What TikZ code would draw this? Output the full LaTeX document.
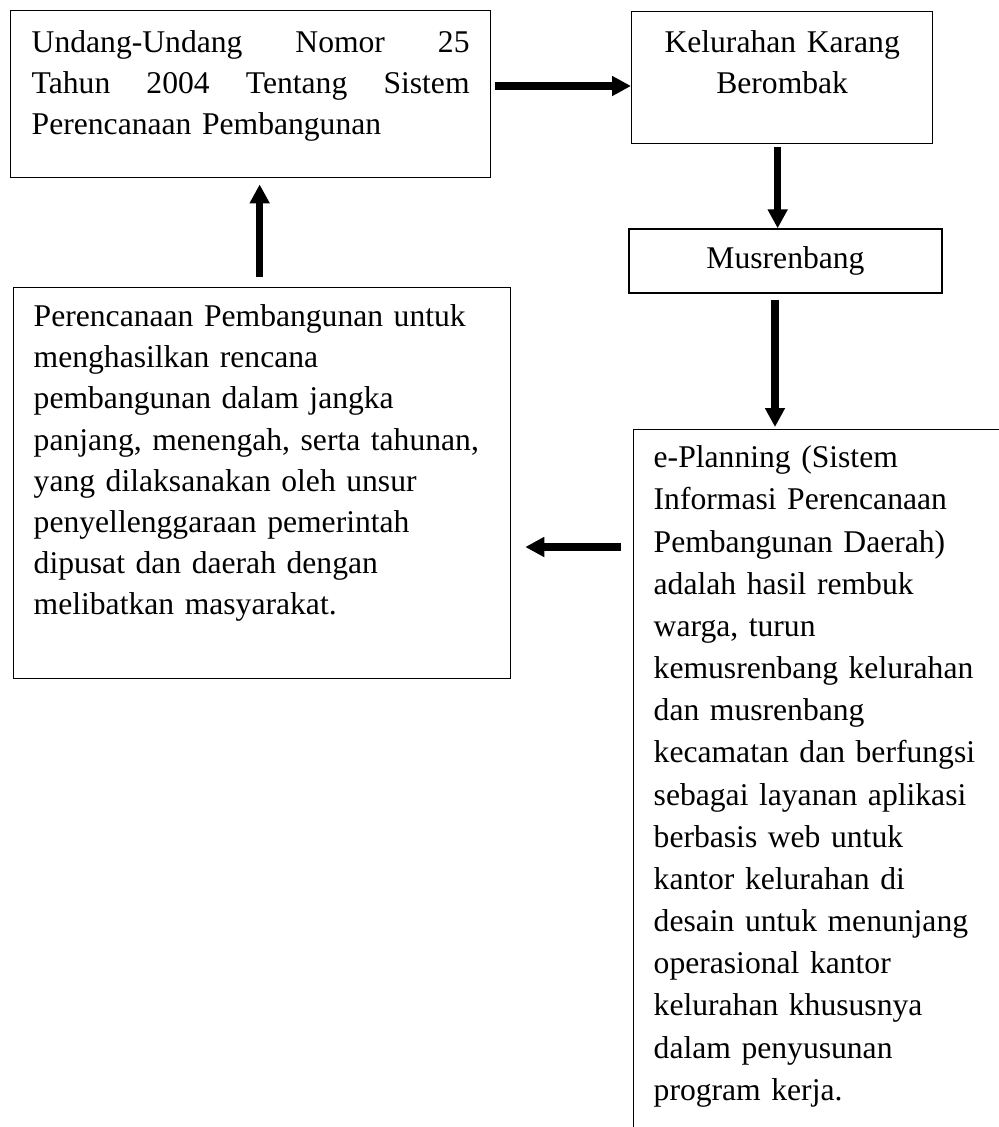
\documentclass[tikz,border=0pt]{standalone}
\usepackage{fontspec}
\setmainfont{Liberation Serif}
\usetikzlibrary{arrows.meta,positioning}
\tikzset{
  box/.style={draw=black,line width=0.8pt,inner ysep=0pt,inner xsep=0.4cm,align=left,anchor=north west,font=\fontsize{18pt}{23.4pt}\selectfont},
  arr/.style={-{Triangle[length=0.38cm,width=0.38cm]},draw=black,line width=4pt}
}

\begin{document}
\begin{tikzpicture}[x=0.02cm,y=-0.02cm]
  \useasboundingbox (0,0) rectangle (999,1127);
  \clip (0,0) rectangle (999,1127);

  \node[box,inner xsep=0.42cm,text width=8.76cm,text height=0.84cm,text depth=2.5cm] (uu) at (10,10)
    {\makebox[8.76cm][l]{Undang-Undang\hfill Nomor\hfill 25}\\\makebox[8.76cm][l]{Tahun\hfill 2004\hfill Tentang\hfill Sistem}\\Perencanaan Pembangunan};
  \node[box,align=center,inner xsep=0pt,text width=6.02cm,text height=0.82cm,text depth=1.82cm] (kel) at (631,11)
    {Kelurahan Karang\\Berombak};
  \node[box,anchor=center,inner sep=0pt,minimum width=6.26cm,minimum height=1.28cm] (mus) at (785.5,261) {Musrenbang};
  \node[box,text width=9.14cm,text height=0.78cm,text depth=7.04cm] (perenc) at (13,287)
    {Perencanaan Pembangunan untuk\\menghasilkan rencana\\pembangunan dalam jangka\\panjang, menengah, serta tahunan,\\yang dilaksanakan oleh unsur\\penyellenggaraan pemerintah\\dipusat dan daerah dengan\\melibatkan masyarakat.};
  \node[box,font=\fontsize{18pt}{24pt}\selectfont,text width=8cm,text height=0.76cm,text depth=14.66cm] (eplan) at (633,429)
    {e-Planning (Sistem\\Informasi Perencanaan\\Pembangunan Daerah)\\adalah hasil rembuk\\warga, turun\\kemusrenbang kelurahan\\dan musrenbang\\kecamatan dan berfungsi\\sebagai layanan aplikasi\\berbasis web untuk\\kantor kelurahan di\\desain untuk menunjang\\operasional kantor\\kelurahan khususnya\\dalam penyusunan\\program kerja.};

  % connectors
  \coordinate (y1) at (0,86);
  \coordinate (k) at ([xshift=-0.09cm]kel.south);
  \coordinate (m) at ([xshift=-0.21cm]mus.south);
  \coordinate (y4) at (0,547);
  \coordinate (p) at ([xshift=-0.05cm]perenc.north);
  \draw[arr,line width=4.5pt,shorten <=0.08cm] (uu.east |- y1) -- (kel.west |- y1);
  \draw[arr,shorten <=0.06cm] (k) -- (k |- mus.north);
  \draw[arr,shorten <=0.12cm,shorten >=0.04cm] (m) -- (m |- eplan.north);
  \draw[arr,shorten <=0.24cm,shorten >=0.28cm] (eplan.west |- y4) -- (perenc.east |- y4);
  \draw[arr,shorten <=0.2cm,shorten >=0.12cm] (p) -- (p |- uu.south);
\end{tikzpicture}
\end{document}
